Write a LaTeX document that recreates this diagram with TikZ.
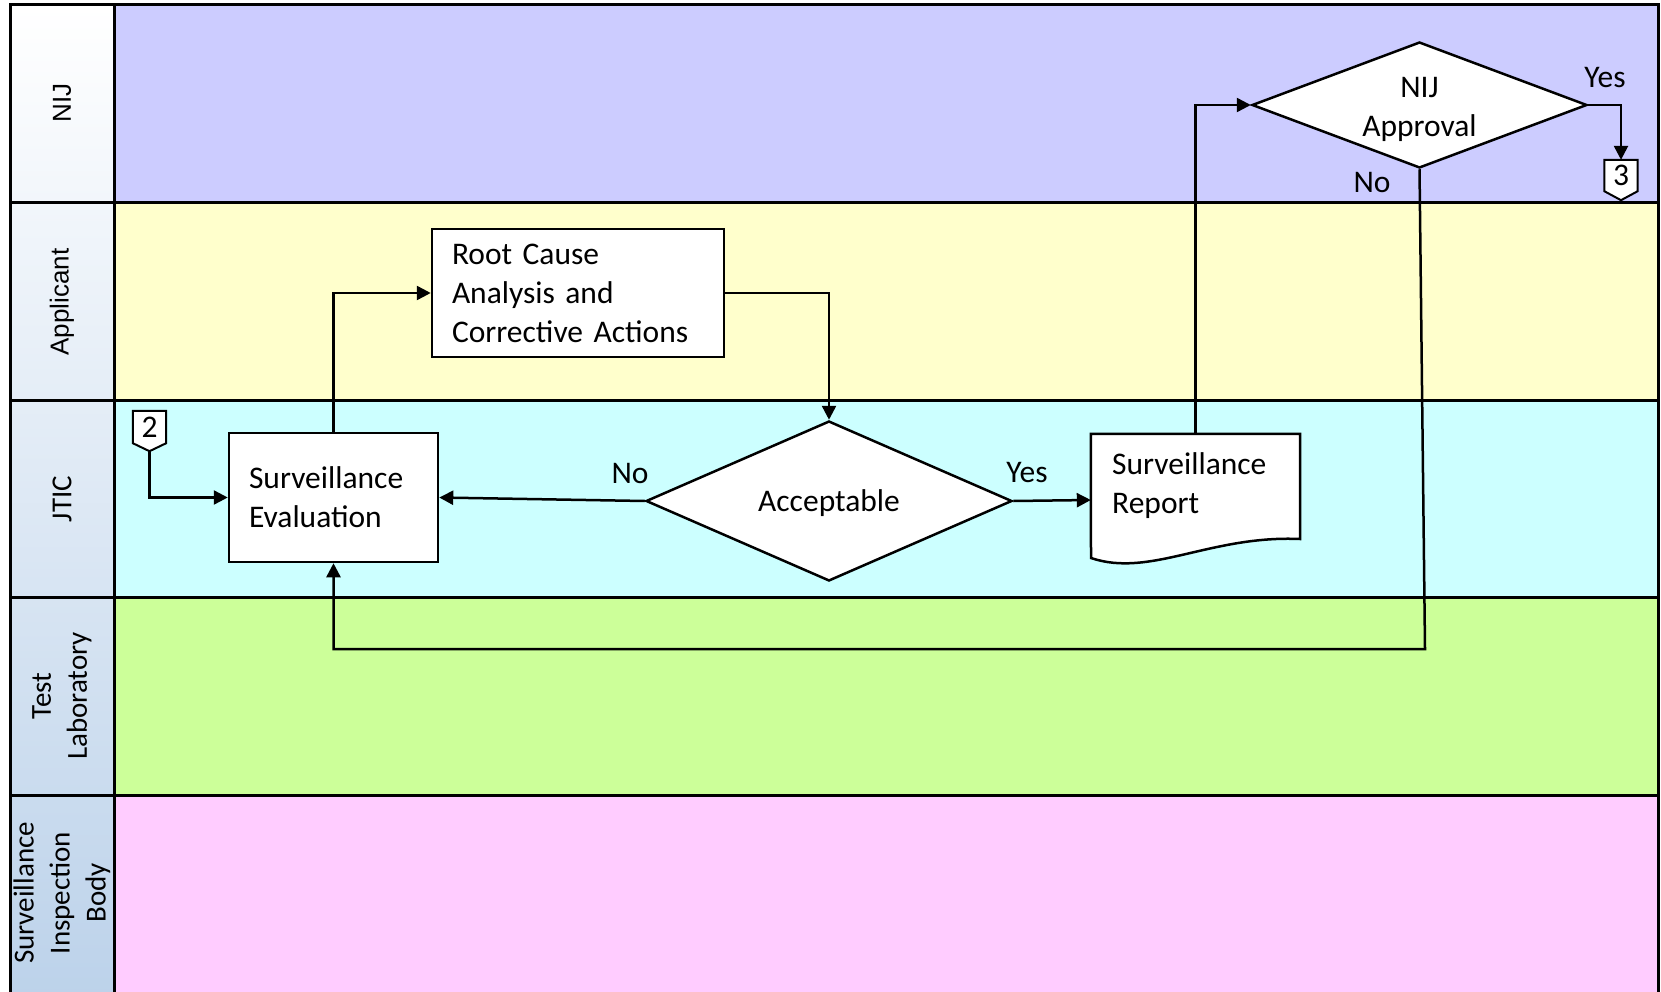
\documentclass[tikz,border=0pt]{standalone}
\usepackage{fontspec}
\setmainfont{Carlito}
\newfontfamily\arialfont{Liberation Sans}
\usetikzlibrary{shapes.geometric,arrows.meta,calc}
\definecolor{nijlane}{RGB}{204,204,255}
\definecolor{applane}{RGB}{255,255,204}
\definecolor{jticlane}{RGB}{204,255,255}
\definecolor{testlane}{RGB}{204,255,153}
\definecolor{siblane}{RGB}{255,204,255}
\definecolor{headblue}{RGB}{188,210,234}
\begin{document}
\begin{tikzpicture}[x=1pt,y=-1pt,
  laneline/.style={draw=black, line width=3pt},
  txt/.style={font=\fontsize{31.5}{39}\selectfont},
  proc/.style={txt, draw=black, fill=white, line width=2.5pt, rectangle, inner xsep=20pt, inner ysep=0pt, align=left},
  dec/.style={txt, draw=black, fill=white, line width=2.5pt, diamond, inner sep=0pt, align=center},
  conn/.style={draw=black, line width=2.5pt, -{Triangle[length=14pt,width=14pt]}},
  offpage/.style={draw=black, fill=white, line width=2pt, line join=miter},
  pagebox/.style={rectangle, inner sep=0pt, minimum width=33pt, minimum height=32pt},
  lanetxt/.style={rotate=90, align=center, font=\fontsize{29}{36}\selectfont},
  lanetxta/.style={rotate=90, align=center, font=\arialfont\fontsize{26}{32}\selectfont}
]
\useasboundingbox (0,0) rectangle (1661,992);
\clip (0,0) rectangle (1661,992);

% lane fills
\fill[nijlane]  (114,5) rectangle (1658,202.5);
\fill[applane]  (114,202.5) rectangle (1658,400);
\fill[jticlane] (114,400) rectangle (1658,597.5);
\fill[testlane] (114,597.5) rectangle (1658,795);
\fill[siblane]  (114,795) rectangle (1658,1000);
\shade[top color=white, middle color=white, bottom color=headblue] (10,5) rectangle (114,1000);

% lane borders
\draw[laneline] (10,5) rectangle (1658,1010);
\draw[laneline] (114,5) -- (114,1010);
\draw[laneline] (10,202.5) -- (1658,202.5);
\draw[laneline] (10,400) -- (1658,400);
\draw[laneline] (10,597.5) -- (1658,597.5);
\draw[laneline] (10,795) -- (1658,795);

% lane labels
\node[lanetxta] (lnij) at (62,103) {NIJ};
\node[lanetxta] (lapp) at (62,302) {Applicant};
\node[lanetxt] (ljtic) at (62,499) {JTIC};
\node[lanetxt] (ltest) at (62,696) {Test\\Laboratory};
\node[lanetxt] (lsib) at (62,893) {Surveillance\\Inspection\\Body};

% process nodes
\node[proc, minimum width=209pt, minimum height=129pt, text width=169pt] (se) at (333.5,497.5) {Surveillance\\Evaluation};
\node[proc, minimum width=292pt, minimum height=128pt, text width=252pt] (rc) at (578,293) {Root Cause\\Analysis and\\Corrective Actions};

% decisions
\node[dec, shape aspect=2.29, minimum width=366pt, minimum height=160pt] (acc) at (829,501) {};
\node[txt, inner sep=0pt] (acct) at (829,503) {Acceptable};
\node[dec, shape aspect=2.66, minimum width=335pt, minimum height=126pt] (nij) at (1419.5,105) {};
\node[txt, inner sep=0pt, align=center] (nijt) at (1419.5,109) {NIJ\\Approval};

% surveillance report (document shape)
\node[rectangle, inner sep=0pt, minimum width=209pt, minimum height=132pt] (sr) at (1195.5,500) {};
\draw[line width=2.5pt, fill=white] (sr.north west) -- (sr.north east) -- (1300,539)
  .. controls (1210,535) and (1150,578) .. (1091,558) -- cycle;
\node[txt, anchor=west, align=left, inner sep=0pt] (srtext) at (1112,486) {Surveillance\\Report};

% off-page connectors
\node[pagebox] (c2) at (149.5,427) {};
\draw[offpage] (c2.north west) -- (c2.north east) -- (c2.south east) -- ($(c2.south)+(0,8)$) -- (c2.south west) -- cycle;
\node[txt, inner sep=0pt] (c2t) at (c2) {2};
\coordinate (c2tip) at ($(c2.south)+(0,8)$);

\node[pagebox, minimum height=31pt] (c3) at (1621,175.5) {};
\draw[offpage] (c3.north west) -- (c3.north east) -- (c3.south east) -- ($(c3.south)+(0,9)$) -- (c3.south west) -- cycle;
\node[txt, inner sep=0pt] (c3t) at (c3) {3};

% connectors
\draw[conn] (c2tip) |- (se.west);
\draw[conn] (se.north) |- (rc.west);
\draw[conn] (rc.east) -| (acc.north);
\draw[conn] (acc.west) -- (se.east);
\draw[conn] (acc.east) -- (sr.west);
\draw[conn] (sr.north) |- (nij.west);
\draw[conn] (nij.east) -| (c3.north);
\coordinate (nobend) at (1425,649);
\draw[conn] (nij.south) -- (nobend) -| (se.south);

% labels
\node[txt] (lno1) at (630,473) {No};
\node[txt] (lyes1) at (1027,473) {Yes};
\node[txt] (lyes2) at (1605,78) {Yes};
\node[txt] (lno2) at (1372,183) {No};
\end{tikzpicture}
\end{document}
